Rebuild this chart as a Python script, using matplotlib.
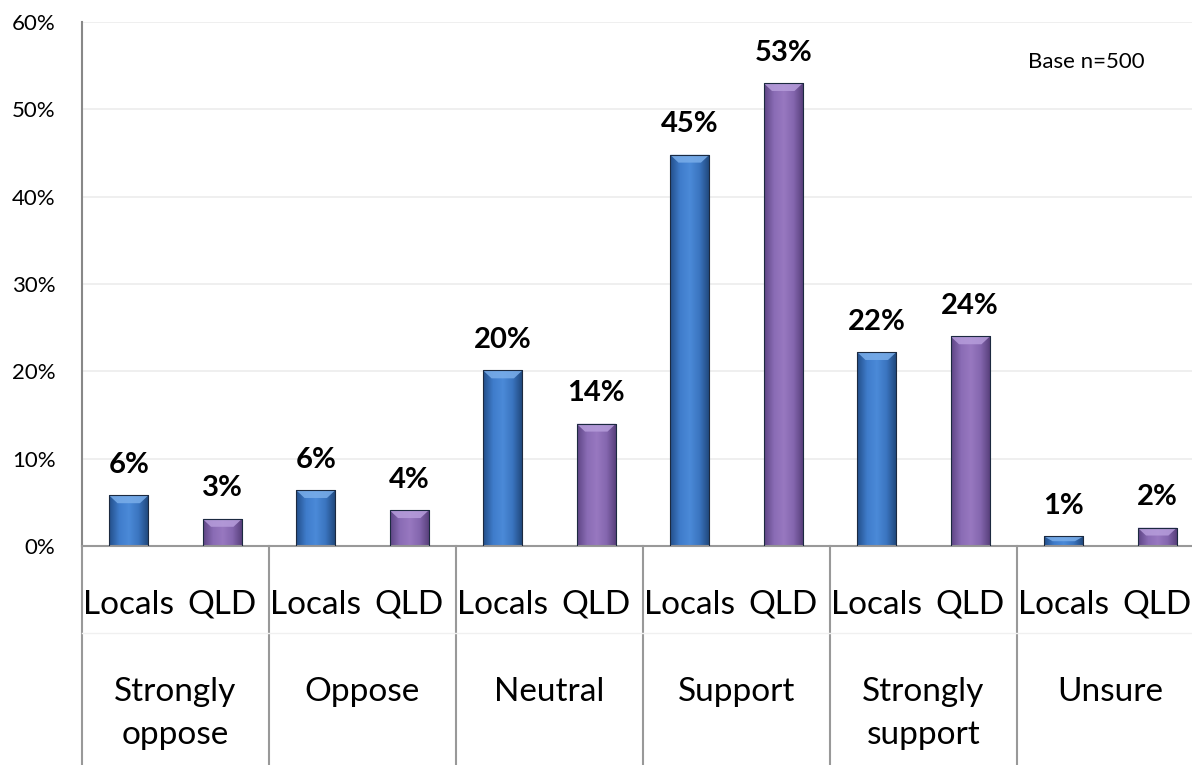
import numpy as np
import matplotlib.pyplot as plt
import matplotlib.transforms as mtransforms
from matplotlib.colors import LinearSegmentedColormap
from matplotlib.patches import Polygon

plt.rcParams['font.family'] = ['Lato', 'DejaVu Sans']

# dados
grupos = ['Strongly\noppose', 'Oppose', 'Neutral', 'Support', 'Strongly\nsupport', 'Unsure']
series = ['Locals', 'QLD']
locals_vals = [5.8, 6.4, 20.1, 44.8, 22.2, 1.1]
qld_vals = [3.1, 4.1, 14.0, 53.0, 24.0, 2.1]
locals_rotulos = ['6%', '6%', '20%', '45%', '22%', '1%']
qld_rotulos = ['3%', '4%', '14%', '53%', '24%', '2%']
yticks = [0, 10, 20, 30, 40, 50, 60]

W, H = 1192, 765
fig = plt.figure(figsize=(W / 100, H / 100), dpi=100)
ax_left, ax_bottom, ax_top = 82, 546, 22
ax = fig.add_axes([ax_left / W, (H - ax_bottom) / H, (W - ax_left) / W, (ax_bottom - ax_top) / H])

slot = 93.5
ax.set_xlim(0, (W - ax_left) / slot)
ax.set_ylim(0, 60)

cmap_azul = LinearSegmentedColormap.from_list('azul', ['#234f8a', '#3f7ccb', '#4b8ad8', '#3a74bf', '#1f4679'])
cmap_roxo = LinearSegmentedColormap.from_list('roxo', ['#5e4585', '#8a6cb5', '#9878c0', '#8466ae', '#553d78'])
topo_azul = '#7aaeea'
topo_roxo = '#b69ddb'

largura = 0.42
gradiente = np.linspace(0, 1, 64).reshape(1, -1)

def desenha_barras(xs, vals, cmap, cor_topo):
    barras = ax.bar(xs, vals, width=largura, color='none', edgecolor='#1c2a40', linewidth=0.8, zorder=3)
    for b in barras:
        x0 = b.get_x()
        x1 = x0 + b.get_width()
        h = b.get_height()
        im = ax.imshow(gradiente, cmap=cmap, aspect='auto', extent=(x0, x1, 0, h), zorder=2.5)
        im.set_clip_path(b)
        d = 0.09
        hb = min(0.9, h / 2)
        tri = Polygon([(x0, h), (x1, h), (x1 - d, h - hb), (x0 + d, h - hb)], closed=True,
                      facecolor=cor_topo, edgecolor='none', alpha=0.85, zorder=2.8)
        ax.add_patch(tri)
    return barras

n = len(grupos)
x_locals = [2 * i + 0.5 for i in range(n)]
x_qld = [2 * i + 1.5 for i in range(n)]
desenha_barras(x_locals, locals_vals, cmap_azul, topo_azul)
desenha_barras(x_qld, qld_vals, cmap_roxo, topo_roxo)

for x, v, r in zip(x_locals, locals_vals, locals_rotulos):
    ax.text(x, v + 2.0, r, ha='center', va='bottom', fontsize=21, fontweight='bold', zorder=4)
for x, v, r in zip(x_qld, qld_vals, qld_rotulos):
    ax.text(x, v + 2.0, r, ha='center', va='bottom', fontsize=21, fontweight='bold', zorder=4)

ax.set_yticks(yticks)
ax.set_yticklabels([f'{t}%' for t in yticks], fontsize=16)
ax.tick_params(axis='y', length=0, pad=19)
ax.yaxis.grid(True, color='#ececec', linewidth=1.2)
ax.set_axisbelow(True)
ax.set_xticks([])
for s in ['top', 'right']:
    ax.spines[s].set_visible(False)
ax.spines['left'].set_color('#888888')
ax.spines['left'].set_linewidth(1.5)
ax.spines['bottom'].set_color('#999999')
ax.spines['bottom'].set_linewidth(1.5)

fig.text(1145 / W, (H - 62) / H, 'Base n=500', ha='right', va='center', fontsize=16)

# eixo de categorias em dois niveis
trans = mtransforms.blended_transform_factory(ax.transData, fig.transFigure)
def fy(py):
    return (H - py) / H

for i in range(n + 1):
    ax.plot([2 * i, 2 * i], [fy(546), fy(765)], transform=trans, color='#999999', lw=1.5, clip_on=False)
ax.plot([0, ax.get_xlim()[1]], [fy(633), fy(633)], transform=trans, color='#f0f0f0', lw=1, clip_on=False)

for i, g in enumerate(grupos):
    ax.text(x_locals[i], fy(605), series[0], transform=trans, ha='center', va='center', fontsize=24)
    ax.text(x_qld[i], fy(605), series[1], transform=trans, ha='center', va='center', fontsize=24)
    for k, linha in enumerate(g.split('\n')):
        ax.text(2 * i + 1, fy(692 + 43 * k), linha, transform=trans, ha='center', va='center', fontsize=24)

fig.savefig('out.png', dpi=100)
